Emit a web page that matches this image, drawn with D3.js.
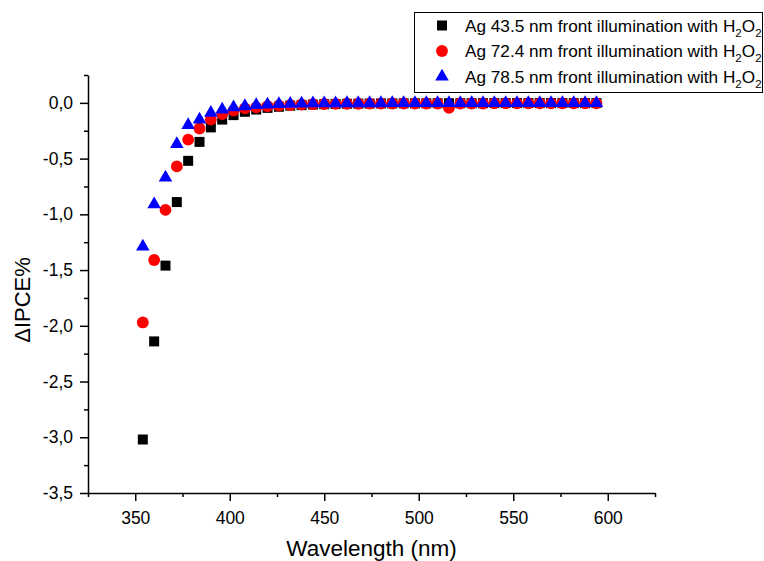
<!DOCTYPE html>
<html>
<head>
<meta charset="utf-8">
<script src="https://cdn.jsdelivr.net/npm/d3@7"></script>
<style>
  body { margin: 0; background: #fff; }
  svg { font-family: "Liberation Sans", Arial, sans-serif; }
</style>
</head>
<body>
<svg id="viz" width="764" height="561"></svg>
<script>
// wavelengths (nm), one point every 6 nm
let wavelengths = [354, 360, 366, 372, 378, 384, 390, 396, 402, 408,
                   414, 420, 426, 432, 438, 444, 450, 456, 462, 468,
                   474, 480, 486, 492, 498, 504, 510, 516, 522, 528,
                   534, 540, 546, 552, 558, 564, 570, 576, 582, 588, 594];

// delta IPCE %
let ag435 = [-3.02, -2.14, -1.46, -0.89, -0.52, -0.35, -0.22, -0.15, -0.11, -0.08,
             -0.06, -0.045, -0.035, -0.025, -0.02, -0.015, -0.012, -0.01, -0.008, -0.007,
             -0.006, -0.005, -0.005, -0.004, -0.004, -0.004, -0.003, -0.003, -0.003, -0.003,
             -0.003, -0.002, -0.002, -0.002, -0.002, -0.002, -0.002, -0.002, -0.002, -0.002, -0.002];
let ag724 = [-1.97, -1.41, -0.96, -0.57, -0.33, -0.23, -0.15, -0.10, -0.07, -0.05,
             -0.04, -0.03, -0.025, -0.02, -0.015, -0.012, -0.01, -0.009, -0.008, -0.008,
             -0.007, -0.007, -0.006, -0.006, -0.006, -0.006, -0.006, -0.045, -0.006, -0.006,
             -0.006, -0.005, -0.005, -0.005, -0.005, -0.005, -0.005, -0.005, -0.005, -0.005, -0.005];
let ag785 = [-1.29, -0.91, -0.67, -0.37, -0.20, -0.15, -0.09, -0.06, -0.04, -0.03,
             -0.02, -0.015, -0.01, -0.008, -0.006, -0.005, -0.004, -0.004, -0.003, -0.003,
             -0.003, -0.003, -0.002, -0.002, -0.002, -0.002, -0.002, -0.002, -0.002, -0.002,
             -0.002, -0.002, -0.002, -0.002, -0.002, -0.002, -0.002, -0.002, -0.002, -0.002, -0.002];

let seriesNames = ["Ag 43.5 nm front illumination with H", "Ag 72.4 nm front illumination with H", "Ag 78.5 nm front illumination with H"];
let seriesColors = ["#000000", "#ff0000", "#0000ff"];

let xMajor = [350, 400, 450, 500, 550, 600];
let xMinor = [325, 375, 425, 475, 525, 575, 625];
let yMajor = [0, -0.5, -1, -1.5, -2, -2.5, -3, -3.5];
let yMinor = [0.25, -0.25, -0.75, -1.25, -1.75, -2.25, -2.75, -3.25];

const margin = {top: 75, right: 109, bottom: 68, left: 88},
      width = 764,
      height = 561;

const svg = d3.select('#viz');

const x = d3.scaleLinear()
    .domain([325, 625])
    .range([margin.left, width - margin.right]);
const y = d3.scaleLinear()
    .domain([-3.5, 0.25])
    .range([height - margin.bottom, margin.top]);

const fmt = d => d3.format(".1f")(d).replace(".", ",").replace("−", "-");

// bottom axis: major ticks with labels, minor ticks without
svg.append("g")
    .attr("transform", "translate(0," + (height - margin.bottom) + ")")
    .call(d3.axisBottom(x).tickValues(xMinor).tickSize(4).tickFormat(""))
    .call(g => g.select(".domain").remove())
    .call(g => g.selectAll("line").attr("stroke-width", 1.5));
svg.append("g")
    .attr("transform", "translate(0," + (height - margin.bottom) + ")")
    .call(d3.axisBottom(x).tickValues(xMajor).tickSize(8).tickSizeOuter(0).tickPadding(11))
    .call(g => g.select(".domain").attr("stroke-width", 1.5))
    .call(g => g.selectAll("line").attr("stroke-width", 1.5))
    .call(g => g.selectAll("text").attr("font-size", 17.5).attr("font-family", "Liberation Sans, Arial, sans-serif").attr("fill", "#000"));

// left axis
svg.append("g")
    .attr("transform", "translate(" + margin.left + ",0)")
    .call(d3.axisLeft(y).tickValues(yMinor).tickSize(4).tickFormat(""))
    .call(g => g.select(".domain").remove())
    .call(g => g.selectAll("line").attr("stroke-width", 1.5));
svg.append("g")
    .attr("transform", "translate(" + margin.left + ",0)")
    .call(d3.axisLeft(y).tickValues(yMajor).tickSize(8).tickSizeOuter(0).tickPadding(7).tickFormat(fmt))
    .call(g => g.select(".domain").attr("stroke-width", 1.5))
    .call(g => g.selectAll("line").attr("stroke-width", 1.5))
    .call(g => g.selectAll("text").attr("font-size", 17.5).attr("font-family", "Liberation Sans, Arial, sans-serif").attr("fill", "#000"));

// axis titles
svg.append("text")
    .attr("x", (x.range()[0] + x.range()[1]) / 2)
    .attr("y", 556)
    .attr("text-anchor", "middle")
    .attr("font-size", 22.5)
    .text("Wavelength (nm)");
svg.append("text")
    .attr("transform", "translate(30,300) rotate(-90)")
    .attr("text-anchor", "middle")
    .attr("font-size", 22)
    .text("ΔIPCE%");

// markers
let symbols = [d3.symbolSquare, d3.symbolCircle, d3.symbolTriangle];
let sizes = [100, 110, 80];
let allSeries = [ag435, ag724, ag785];

allSeries.forEach(function(vals, i) {
    svg.append("g")
        .selectAll("path")
        .data(vals)
        .join("path")
        .attr("d", d3.symbol().type(symbols[i]).size(sizes[i]))
        .attr("transform", (d, j) => "translate(" + x(wavelengths[j]) + "," + y(d) + ")")
        .attr("fill", seriesColors[i]);
});

// legend box
const legend = svg.append("g");
legend.append("rect")
    .attr("x", 414.5)
    .attr("y", 12.5)
    .attr("width", 348)
    .attr("height", 80)
    .attr("fill", "#fff")
    .attr("stroke", "#000")
    .attr("stroke-width", 1);

seriesNames.forEach(function(name, i) {
    let rowY = 25.5 + i * 25.5;
    legend.append("path")
        .attr("d", d3.symbol().type(symbols[i]).size(sizes[i])())
        .attr("transform", "translate(442," + rowY + ")")
        .attr("fill", seriesColors[i]);
    let t = legend.append("text")
        .attr("x", 465)
        .attr("y", rowY + 6)
        .attr("font-size", 17.2)
        .text(name);
    t.append("tspan").attr("font-size", 11.5).attr("dy", 5).text("2");
    t.append("tspan").attr("dy", -5).text("O");
    t.append("tspan").attr("font-size", 11.5).attr("dy", 5).text("2");
});
</script>
</body>
</html>
